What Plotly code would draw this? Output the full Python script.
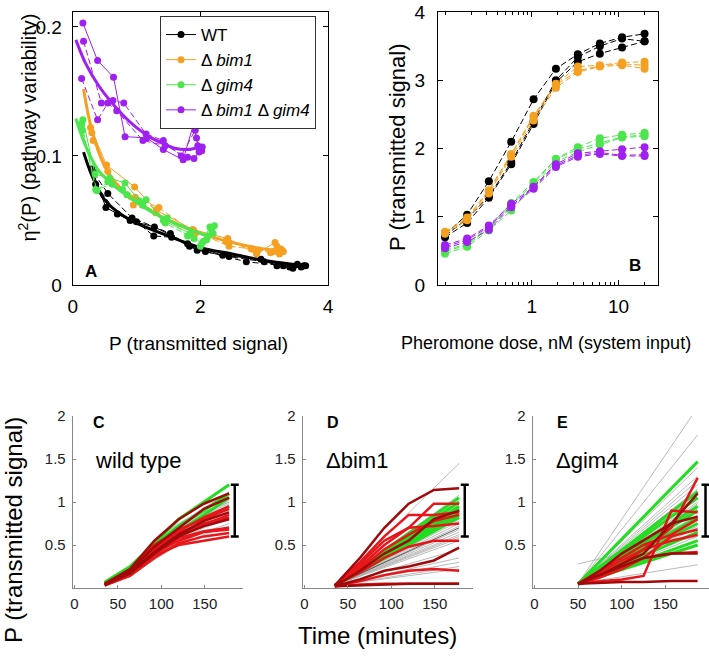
import plotly.graph_objects as go

W, H = 709, 656
FONT = "Liberation Sans, Arial, sans-serif"

# ---------------- Panel A data: eta^2(P) vs P ----------------
A_wt_x = [[0.30, 0.52, 0.90, 1.28, 1.80, 2.35, 2.95, 3.20, 3.45, 3.62],
          [0.33, 0.55, 0.93, 1.53, 1.83, 2.08, 2.72, 3.30, 3.52, 3.58],
          [0.36, 0.70, 1.00, 1.27, 1.55, 1.95, 2.45, 3.00, 3.40, 3.65]]
A_wt_y = [[0.090, 0.060, 0.050, 0.045, 0.032, 0.023, 0.020, 0.015, 0.013, 0.015],
          [0.087, 0.071, 0.052, 0.040, 0.030, 0.026, 0.018, 0.015, 0.016, 0.014],
          [0.078, 0.055, 0.049, 0.038, 0.037, 0.027, 0.022, 0.018, 0.014, 0.015]]
A_bim1_x = [[0.28, 0.53, 0.97, 1.31, 1.88, 2.43, 2.88, 3.17, 3.22, 3.28],
            [0.30, 0.55, 0.95, 1.30, 1.90, 2.45, 2.80, 3.15, 3.24, 3.26],
            [0.32, 0.58, 0.98, 1.35, 1.92, 2.40, 2.90, 3.10, 3.20, 3.30]]
A_bim1_y = [[0.122, 0.093, 0.076, 0.058, 0.043, 0.036, 0.024, 0.033, 0.028, 0.027],
            [0.118, 0.088, 0.062, 0.056, 0.042, 0.030, 0.028, 0.026, 0.024, 0.028],
            [0.112, 0.082, 0.068, 0.060, 0.040, 0.034, 0.027, 0.025, 0.030, 0.026]]
A_gim4_x = [[0.16, 0.35, 0.58, 0.82, 1.05, 1.42, 1.84, 2.02, 2.15, 2.20],
            [0.14, 0.36, 0.62, 0.78, 1.10, 1.48, 1.80, 2.05, 2.12, 2.18],
            [0.15, 0.38, 0.55, 0.85, 1.15, 1.45, 1.90, 2.00, 2.10, 2.22]]
A_gim4_y = [[0.128, 0.086, 0.083, 0.079, 0.065, 0.050, 0.040, 0.032, 0.045, 0.040],
            [0.125, 0.074, 0.078, 0.074, 0.062, 0.052, 0.038, 0.034, 0.038, 0.042],
            [0.120, 0.073, 0.080, 0.070, 0.066, 0.048, 0.036, 0.030, 0.035, 0.046]]
A_dbl_x = [[0.16, 0.39, 0.64, 0.82, 1.16, 1.42, 1.73, 1.89, 1.94, 1.99],
           [0.17, 0.45, 0.63, 0.80, 1.15, 1.42, 1.70, 1.92, 1.96, 2.02],
           [0.14, 0.39, 0.55, 0.69, 1.10, 1.45, 1.80, 1.90, 1.98, 2.03]]
A_dbl_y = [[0.203, 0.174, 0.161, 0.115, 0.114, 0.105, 0.097, 0.124, 0.114, 0.106],
           [0.189, 0.141, 0.143, 0.141, 0.117, 0.112, 0.100, 0.120, 0.108, 0.104],
           [0.160, 0.128, 0.141, 0.135, 0.112, 0.108, 0.099, 0.098, 0.103, 0.107]]

# fitted curves
fit_wt_x = [0.17, 0.3, 0.5, 0.75, 1.0, 1.5, 2.0, 2.5, 3.0, 3.65]
fit_wt_y = [0.103, 0.085, 0.066, 0.055, 0.048, 0.038, 0.029, 0.024, 0.019, 0.015]
fit_bim1_x = [0.17, 0.3, 0.5, 0.75, 1.0, 1.5, 2.0, 2.5, 3.0, 3.3]
fit_bim1_y = [0.152, 0.120, 0.092, 0.075, 0.065, 0.050, 0.040, 0.033, 0.028, 0.027]
fit_gim4_x = [0.05, 0.2, 0.4, 0.6, 0.8, 1.0, 1.3, 1.6, 2.0, 2.15]
fit_gim4_y = [0.129, 0.108, 0.089, 0.079, 0.071, 0.064, 0.055, 0.048, 0.040, 0.037]
fit_dbl_x = [0.05, 0.2, 0.4, 0.6, 0.8, 1.0, 1.2, 1.4, 1.6, 1.8, 2.0]
fit_dbl_y = [0.190, 0.172, 0.155, 0.142, 0.131, 0.122, 0.115, 0.110, 0.106, 0.105, 0.107]

# ---------------- Panel B data: dose response ----------------
dose = [0.1, 0.18, 0.32, 0.58, 1.05, 1.9, 3.4, 6.1, 11, 20]
B_wt = [[0.70, 0.91, 1.28, 1.77, 2.36, 2.97, 3.27, 3.39, 3.48, 3.57],
        [0.72, 0.97, 1.30, 1.80, 2.40, 3.00, 3.34, 3.50, 3.61, 3.57],
        [0.74, 1.03, 1.52, 2.10, 2.72, 3.17, 3.38, 3.54, 3.63, 3.68]]
B_bim1 = [[0.75, 0.95, 1.34, 1.88, 2.41, 2.89, 3.12, 3.20, 3.22, 3.17],
          [0.77, 0.97, 1.37, 1.90, 2.46, 2.93, 3.14, 3.21, 3.24, 3.22],
          [0.78, 0.99, 1.39, 1.92, 2.48, 2.95, 3.20, 3.22, 3.26, 3.27]]
B_gim4 = [[0.46, 0.56, 0.80, 1.09, 1.46, 1.80, 1.95, 2.06, 2.16, 2.18],
          [0.49, 0.585, 0.83, 1.17, 1.49, 1.84, 1.99, 2.08, 2.17, 2.20],
          [0.51, 0.60, 0.85, 1.20, 1.51, 1.85, 2.02, 2.15, 2.20, 2.23]]
B_dbl = [[0.54, 0.63, 0.81, 1.14, 1.41, 1.73, 1.88, 1.92, 1.89, 1.89],
         [0.56, 0.66, 0.85, 1.16, 1.43, 1.75, 1.90, 1.94, 1.90, 1.91],
         [0.585, 0.68, 0.87, 1.19, 1.44, 1.77, 1.93, 1.96, 1.99, 2.02]]

# ---------------- Panel C: wild type time courses ----------------
t_C = [35, 64, 92, 120, 149, 178]
C_gray = [[0.04, 0.20, 0.48, 0.70, 0.88, 1.00], [0.05, 0.22, 0.50, 0.72, 0.90, 1.08],
          [0.03, 0.18, 0.42, 0.62, 0.78, 0.90], [0.04, 0.16, 0.38, 0.58, 0.72, 0.82],
          [0.05, 0.24, 0.55, 0.75, 0.92, 1.05], [0.03, 0.15, 0.35, 0.52, 0.65, 0.75],
          [0.04, 0.19, 0.45, 0.66, 0.84, 0.96], [0.05, 0.21, 0.47, 0.68, 0.85, 0.98],
          [0.03, 0.17, 0.40, 0.60, 0.76, 0.88], [0.04, 0.20, 0.52, 0.74, 0.93, 1.12],
          [0.06, 0.23, 0.46, 0.64, 0.80, 0.92], [0.04, 0.14, 0.33, 0.50, 0.62, 0.72],
          [0.05, 0.20, 0.44, 0.63, 0.80, 0.93], [0.03, 0.18, 0.43, 0.64, 0.82, 0.95],
          [0.04, 0.22, 0.50, 0.71, 0.88, 1.02], [0.05, 0.19, 0.41, 0.59, 0.74, 0.86],
          [0.04, 0.16, 0.37, 0.55, 0.70, 0.80], [0.03, 0.21, 0.49, 0.69, 0.86, 1.00]]
C_green = [[0.07, 0.25, 0.52, 0.80, 1.00, 1.20], [0.06, 0.22, 0.46, 0.66, 0.85, 1.05],
           [0.05, 0.20, 0.42, 0.60, 0.78, 0.95], [0.06, 0.23, 0.50, 0.72, 0.90, 1.10]]
C_red = [[0.04, 0.18, 0.45, 0.62, 0.74, 0.85], [0.03, 0.15, 0.38, 0.50, 0.55, 0.60],
         [0.05, 0.20, 0.48, 0.64, 0.75, 0.82], [0.04, 0.17, 0.43, 0.58, 0.66, 0.70],
         [0.03, 0.19, 0.46, 0.66, 0.82, 0.95], [0.05, 0.16, 0.40, 0.55, 0.65, 0.68],
         [0.04, 0.22, 0.50, 0.68, 0.80, 0.92], [0.03, 0.14, 0.35, 0.52, 0.60, 0.64]]
C_darkred = [[0.05, 0.22, 0.55, 0.80, 0.98, 1.10], [0.04, 0.18, 0.42, 0.62, 0.78, 0.88],
             [0.03, 0.20, 0.48, 0.70, 0.92, 1.05], [0.04, 0.17, 0.40, 0.60, 0.72, 0.80]]

# ---------------- Panel D: delta bim1 ----------------
t_D = [35, 64, 92, 120, 149, 178]
D_line_t = [35, 178]
D_start = 0.03
D_gray_end = [1.45, 1.05, 1.00, 0.95, 0.92, 0.90, 0.88, 0.85, 0.82, 0.80, 0.78, 0.75, 0.72,
              0.68, 0.65, 0.60, 0.58, 0.55, 0.45, 0.35, 0.30, 0.25, 0.22, 0.98, 1.08, 0.86, 0.62]
D_black_end = [0.70]
D_green_end = [1.05, 1.00, 0.95, 0.92, 0.90, 0.88, 0.85, 0.82]
D_red = [[0.03, 0.30, 0.60, 0.85, 0.85, 0.88], [0.03, 0.25, 0.50, 0.70, 0.98, 0.98],
         [0.02, 0.22, 0.45, 0.62, 0.78, 0.85], [0.03, 0.18, 0.35, 0.48, 0.55, 0.55],
         [0.02, 0.08, 0.15, 0.20, 0.22, 0.20], [0.02, 0.04, 0.05, 0.05, 0.05, 0.05],
         [0.03, 0.28, 0.55, 0.70, 0.72, 0.75]]
D_darkred = [[0.03, 0.35, 0.70, 0.98, 1.14, 1.16], [0.02, 0.10, 0.20, 0.25, 0.32, 0.47],
             [0.02, 0.20, 0.40, 0.55, 0.80, 0.90], [0.02, 0.03, 0.04, 0.05, 0.05, 0.05]]

# ---------------- Panel E: delta gim4 ----------------
t_E = [50, 75, 100, 125, 157, 187]
E_line_t = [50, 187]
E_gray_start = [0.05] * 29 + [0.28]
E_gray_end = [2.10, 1.78, 1.40, 1.30, 1.25, 1.20, 1.15, 1.10, 1.05, 1.00, 0.98, 0.95, 0.92,
              0.90, 0.88, 0.85, 0.82, 0.80, 0.78, 0.75, 0.72, 0.70, 0.65, 0.60, 0.55, 0.50,
              0.27, 1.12, 1.08, 0.60]
E_green_start = 0.05
E_green_end = [1.47, 1.12, 1.05, 0.95, 0.90, 0.82, 0.75, 0.65, 0.55, 0.50]
E_red = [[0.05, 0.15, 0.28, 0.45, 0.70, 1.28], [0.05, 0.08, 0.10, 0.14, 0.90, 0.88],
         [0.05, 0.18, 0.32, 0.45, 0.55, 0.62], [0.05, 0.15, 0.25, 0.35, 0.40, 0.42],
         [0.04, 0.12, 0.22, 0.35, 0.60, 0.68], [0.05, 0.20, 0.35, 0.50, 0.62, 0.80]]
E_darkred = [[0.05, 0.06, 0.07, 0.07, 0.08, 0.08], [0.05, 0.15, 0.25, 0.35, 0.40, 0.40],
             [0.04, 0.20, 0.40, 0.55, 0.75, 0.83], [0.05, 0.15, 0.28, 0.40, 0.75, 1.10]]

# variability bracket (centre +/- half range)
bracket_center = 0.9
bracket_half = 0.3
bracket_t = [184.5, 184.5, 196]

# ---------------- colours ----------------
COL = {"wt": "#000000", "bim1": "#F5A020", "gim4": "#4CE64C", "dbl": "#A020F0"}
GRAY, GREEN, RED, DARKRED = "#A8A8A8", "#22DD22", "#E8161B", "#A00A0A"

fig = go.Figure()

# ---- Panel A ----
strainsA = [("wt", "WT", A_wt_x, A_wt_y, fit_wt_x, fit_wt_y),
            ("bim1", "Δ <i>bim1</i>", A_bim1_x, A_bim1_y, fit_bim1_x, fit_bim1_y),
            ("gim4", "Δ <i>gim4</i>", A_gim4_x, A_gim4_y, fit_gim4_x, fit_gim4_y),
            ("dbl", "Δ <i>bim1</i> Δ <i>gim4</i>", A_dbl_x, A_dbl_y, fit_dbl_x, fit_dbl_y)]
for key, name, xs, ys, fx, fy in strainsA:
    for i, (x, y) in enumerate(zip(xs, ys)):
        fig.add_trace(go.Scatter(
            x=x, y=y, mode="lines+markers", xaxis="x", yaxis="y",
            line=dict(color=COL[key], width=1, dash="solid" if i == 0 else "6px,3px"),
            marker=dict(color=COL[key], size=7),
            name=name, showlegend=(i == 0)))
    fig.add_trace(go.Scatter(x=fx, y=fy, mode="lines", xaxis="x", yaxis="y",
                             line=dict(color=COL[key], width=3, shape="spline"),
                             showlegend=False))

# ---- Panel B ----
for key, reps in [("gim4", B_gim4), ("dbl", B_dbl), ("wt", B_wt), ("bim1", B_bim1)]:
    for y in reps:
        fig.add_trace(go.Scatter(
            x=dose, y=y, mode="lines+markers", xaxis="x2", yaxis="y2",
            line=dict(color=COL[key], width=1, dash="6px,3px"),
            marker=dict(color=COL[key], size=8), showlegend=False))

def add_lines(t, series, color, width, ax, ay):
    for y in series:
        fig.add_trace(go.Scatter(x=t, y=y, mode="lines", xaxis=ax, yaxis=ay,
                                 line=dict(color=color, width=width), showlegend=False))

# ---- Panel C ----
add_lines(t_C, C_gray, GRAY, 0.8, "x3", "y3")
add_lines(t_C, C_green, GREEN, 3, "x3", "y3")
add_lines(t_C, C_red, RED, 2.5, "x3", "y3")
add_lines(t_C, C_darkred, DARKRED, 2.5, "x3", "y3")

# ---- Panel D ----
add_lines(D_line_t, [[D_start, e] for e in D_gray_end], GRAY, 0.8, "x4", "y4")
add_lines(D_line_t, [[D_start, e] for e in D_black_end], "#333333", 0.8, "x4", "y4")
add_lines(D_line_t, [[D_start, e] for e in D_green_end], GREEN, 3, "x4", "y4")
add_lines(t_D, D_red, RED, 2.5, "x4", "y4")
add_lines(t_D, D_darkred, DARKRED, 2.5, "x4", "y4")

# ---- Panel E ----
add_lines(E_line_t, [[s, e] for s, e in zip(E_gray_start, E_gray_end)], GRAY, 0.8, "x5", "y5")
add_lines(E_line_t, [[E_green_start, e] for e in E_green_end], GREEN, 3, "x5", "y5")
add_lines(t_E, E_red, RED, 2.5, "x5", "y5")
add_lines(t_E, E_darkred, DARKRED, 2.5, "x5", "y5")

# brackets
for t, ax, ay in zip(bracket_t, ["x3", "x4", "x5"], ["y3", "y4", "y5"]):
    fig.add_trace(go.Scatter(
        x=[t], y=[bracket_center], mode="markers", xaxis=ax, yaxis=ay,
        marker=dict(size=1, color="rgba(0,0,0,0)"),
        error_y=dict(type="data", array=[bracket_half], width=4, thickness=2.5, color="black"),
        showlegend=False))

def px(x):
    return x / W

def py(y):
    return 1 - y / H

top_dom = [py(285), py(12)]
low_dom = [py(588), py(416)]
frame = dict(showline=True, linecolor="black", linewidth=1, mirror="ticks", ticks="inside",
             ticklen=5, tickcolor="black", showgrid=False, zeroline=False, automargin=False,
             tickfont=dict(size=19, color="black"))
low = dict(showline=True, linecolor="#888888", linewidth=1, ticks="inside", ticklen=3,
           tickcolor="#888888", showgrid=False, zeroline=False, automargin=False,
           tickfont=dict(size=15, color="#222222"))

fig.update_layout(
    template="none",
    width=W, height=H, margin=dict(l=0, r=0, t=0, b=0, autoexpand=False),
    paper_bgcolor="white", plot_bgcolor="white",
    font=dict(family=FONT, color="black"),
    xaxis=dict(domain=[px(72.7), px(328)], range=[0, 4], tickvals=[0, 2, 4],
               anchor="y", ticklabelstandoff=4, **frame),
    yaxis=dict(domain=top_dom, range=[0, 0.2116], tickvals=[0, 0.1, 0.2],
               ticktext=["0", "0.1", "0.2"], anchor="x", ticklabelstandoff=6, **frame),
    xaxis2=dict(domain=[px(438), px(658)], type="log", range=[-1.081, 1.456],
                tickvals=[1, 10], ticktext=["1", "10"], anchor="y2", ticklabelstandoff=4,
                minor=dict(ticks="inside", ticklen=3, tickcolor="black",
                           tickvals=[0.1, 0.2, 0.3, 0.4, 0.5, 0.6, 0.7, 0.8, 0.9,
                                     2, 3, 4, 5, 6, 7, 8, 9, 20]),
                **frame),
    yaxis2=dict(domain=top_dom, range=[0, 4], tickvals=[0, 1, 2, 3, 4], anchor="x2",
                ticklabelstandoff=8, **frame),
    xaxis3=dict(domain=[px(72.7), px(243)], range=[-2, 194], tickvals=[0, 50, 100, 150],
                anchor="y3", ticklabelstandoff=2, **low),
    yaxis3=dict(domain=low_dom, range=[0, 2], tickvals=[0.5, 1, 1.5, 2],
                ticktext=["0.5", "1", "1.5", "2"], anchor="x3", ticklabelstandoff=3, **low),
    xaxis4=dict(domain=[px(302.7), px(473)], range=[-2, 194], tickvals=[0, 50, 100, 150],
                anchor="y4", ticklabelstandoff=2, **low),
    yaxis4=dict(domain=low_dom, range=[0, 2], tickvals=[0.5, 1, 1.5, 2],
                ticktext=["0.5", "1", "1.5", "2"], anchor="x4", ticklabelstandoff=3, **low),
    xaxis5=dict(domain=[px(532.7), 1.0], range=[-2, 200], tickvals=[0, 50, 100, 150],
                anchor="y5", ticklabelstandoff=2, **low),
    yaxis5=dict(domain=low_dom, range=[0, 2], tickvals=[0.5, 1, 1.5, 2],
                ticktext=["0.5", "1", "1.5", "2"], anchor="x5", ticklabelstandoff=3, **low),
    legend=dict(x=px(160), y=py(16), xanchor="left", yanchor="top", bgcolor="white",
                bordercolor="#333333", borderwidth=1, font=dict(size=17, color="black"),
                tracegroupgap=0, itemwidth=30),
)

def ann(text, x, y, size, angle=0, bold=False):
    fig.add_annotation(text=f"<b>{text}</b>" if bold else text, x=px(x), y=py(y),
                       xref="paper", yref="paper", showarrow=False, textangle=angle,
                       xanchor="center", yanchor="middle",
                       font=dict(size=size, family=FONT, color="black"))

ann("η<sup>2</sup>(P) (pathway variability)", 27.5, 128, 20, angle=-90)
ann("P (transmitted signal)", 198, 343, 19)
ann("P (transmitted signal)", 397, 148, 22, angle=-90)
ann("Pheromone dose, nM (system input)", 546, 343, 18)
ann("A", 91, 271, 17, bold=True)
ann("B", 635, 265, 17, bold=True)
ann("C", 99, 422, 16, bold=True)
ann("D", 333, 422, 16, bold=True)
ann("E", 562, 422, 16, bold=True)
ann("wild type", 138, 460, 22)
ann("Δbim1", 357, 460, 22)
ann("Δgim4", 587, 460, 22)
ann("P (transmitted signal)", 13, 530, 24, angle=-90)
ann("Time (minutes)", 378, 635, 24)

fig.write_html("out.html", config={"displayModeBar": False},
               post_script="document.body.style.margin='0';document.body.style.overflow='hidden';")
